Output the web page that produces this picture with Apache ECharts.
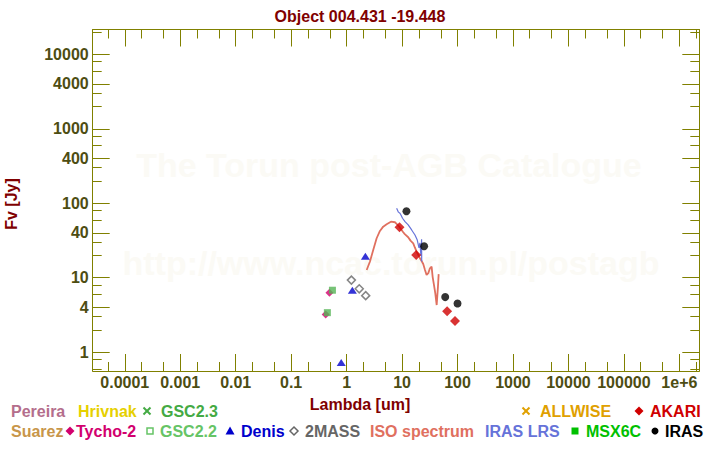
<!DOCTYPE html>
<html><head><meta charset="utf-8">
<script src="https://cdn.jsdelivr.net/npm/echarts@6/dist/echarts.min.js"></script>
<style>html,body{margin:0;padding:0;background:#fff}#c{width:720px;height:450px}</style>
</head><body><div id="c"></div>
<script>
// ---------- data ----------
const titleText = 'Object 004.431 -19.448';
const xTitle = 'Lambda [um]';
const yTitle = 'Fv [Jy]';
const xMin = 2.64e-5, xMax = 2.29e6;
const yMin = 0.56, yMax = 21500;
const xMajorTicks = [1e-4, 1e-3, 0.01, 0.1, 1, 10, 100, 1000, 1e4, 1e5, 1e6];
const xTickLabels = ['0.0001', '0.001', '0.01', '0.1', '1', '10', '100', '1000', '10000', '100000', '1e+6'];
const xMinorTicks = [5e-5, 2e-4, 5e-4, 2e-3, 5e-3, 0.02, 0.05, 0.2, 0.5, 2, 5, 20, 50, 200, 500, 2000, 5000, 2e4, 5e4, 2e5, 5e5, 2e6];
const yMajorTicks = [1, 4, 10, 40, 100, 400, 1000, 4000, 10000];
const yTickLabels = ['1', '4', '10', '40', '100', '400', '1000', '4000', '10000'];
const yMinorTicks = [0.6, 0.8, 2, 3, 6, 8, 20, 30, 60, 80, 200, 300, 600, 800, 2000, 3000, 6000, 8000, 20000];

const irasLam = [12, 25, 60, 100];
const irasFlux = [78, 26.5, 5.5, 4.5];
const akariLam = [9, 18, 65, 90];
const akariFlux = [47.6, 20.2, 3.55, 2.63];
const denisLam = [0.8, 1.27, 2.18];
const denisFlux = [0.73, 6.8, 19.5];
const tmassLam = [1.22, 1.69, 2.21];
const tmassFlux = [9.3, 7.1, 5.75];
const tychoLam = [0.42, 0.49];
const tychoFlux = [3.2, 6.3];
const gsc22Lam = [0.45, 0.555];
const gsc22Flux = [3.4, 6.8];
const isoLam = [2.30, 2.63, 3.02, 3.48, 3.99, 4.57, 5.27, 6.30, 7.43, 8.89, 10.5, 11.2, 12.9, 14.2, 15.9, 17.0, 18.3, 19.5, 21.0, 22.5, 24.1, 25.9, 27.7, 29.7, 31.8, 34.1, 35.6, 37.6, 39.7, 42.1, 44.4, 45.7];
const isoFlux = [12.7, 16.4, 23.6, 33.9, 42.5, 48.5, 52.3, 56.6, 55.6, 48.5, 40.8, 38.5, 35.0, 31.5, 29.0, 25.5, 22.4, 20.5, 18.3, 16.8, 15.3, 12.7, 10.9, 11.5, 13.4, 14.1, 10.3, 8.0, 6.2, 4.3, 7.6, 11.2];
const lrsLam = [7.98, 8.6, 9.16, 9.5, 10.2, 11.3, 12.9, 14.9, 17.1, 18.8, 20.2, 21.0, 21.9, 22.5, 22.6];
const lrsFlux = [85.7, 76, 73.4, 70, 62.9, 56.6, 51.2, 43.8, 37.5, 32.1, 25.1, 29.3, 19.6, 32.9, 16.5];

// legend entries (names, colours, icon kinds)
const legendNames = ['Pereira', 'Hrivnak', 'GSC2.3', 'ALLWISE', 'AKARI', 'Suarez', 'Tycho-2', 'GSC2.2', 'Denis', '2MASS', 'ISO spectrum', 'IRAS LRS', 'MSX6C', 'IRAS'];
const legendColors = ['#b46e8c', '#e6d000', '#44aa44', '#e0a000', '#d00000', '#c8964a', '#d2006e', '#66c466', '#0000cc', '#666666', '#e0705f', '#6673d9', '#00c000', '#000000'];
const legendIcons = [null, null, 'cross', 'cross', 'diamond', null, 'diamond', 'hsquare', 'triangle', 'hdiamond', null, null, 'square', 'circle'];

// ---------- layout ----------
const FONT = '"Liberation Sans", Arial, sans-serif';
const legendRow = [0, 0, 0, 0, 0, 1, 1, 1, 1, 1, 1, 1, 1, 1];
const legendTextX = [11, 78, 161, 540, 650, 11, 76, 160, 241, 305, 370, 485, 586, 665];
const legendIconX = [0, 0, 147, 526, 639, 0, 70, 150, 230, 294, 0, 0, 575, 655];
const rowY = [411, 431];

const zip = (a, b) => a.map((v, i) => [v, b[i]]);
const olive = '#808000';
const labelColor = '#4d4d12';

function fmtFrom(ticks, labels) {
  return function (v) {
    let best = 0, bd = Infinity;
    ticks.forEach((t, i) => { const d = Math.abs(Math.log10(v) - Math.log10(t)); if (d < bd) { bd = d; best = i; } });
    return labels[best];
  };
}

function mkAxis(isX, gridIndex, position, ticks, len, showLine, labels) {
  const ax = {
    type: 'log', logBase: 10, gridIndex, position,
    min: isX ? xMin : yMin, max: isX ? xMax : yMax,
    axisLine: { show: showLine, lineStyle: { color: olive, width: 1 } },
    axisTick: { show: true, inside: true, length: len, customValues: ticks, lineStyle: { color: olive, width: 1 } },
    splitLine: { show: false }, minorTick: { show: false }, minorSplitLine: { show: false },
    axisLabel: { show: false }
  };
  if (labels) {
    ax.axisLabel = {
      show: true, customValues: ticks, formatter: fmtFrom(ticks, labels),
      color: labelColor, fontSize: 16, fontWeight: 'bold', fontFamily: FONT,
      margin: isX ? 3 : 4, hideOverlap: false, showMinLabel: true, showMaxLabel: true
    };
  }
  return ax;
}

const gridRect = { left: 92.7, top: 29.5, width: 606.6, height: 341.5 };

// legend graphics
const legendGraphics = [];
legendNames.forEach((name, i) => {
  const y = rowY[legendRow[i]];
  const c = legendColors[i];
  legendGraphics.push({
    type: 'text', silent: true,
    style: { text: name, x: legendTextX[i], y: y, fill: c, font: 'bold 16px ' + FONT, textAlign: 'left', textVerticalAlign: 'middle', align: 'left', verticalAlign: 'middle' }
  });
  const ix = legendIconX[i];
  switch (legendIcons[i]) {
    case 'cross':
      legendGraphics.push({ type: 'line', shape: { x1: ix - 3.5, y1: y - 3.5, x2: ix + 3.5, y2: y + 3.5 }, style: { stroke: c, lineWidth: 2 } });
      legendGraphics.push({ type: 'line', shape: { x1: ix - 3.5, y1: y + 3.5, x2: ix + 3.5, y2: y - 3.5 }, style: { stroke: c, lineWidth: 2 } });
      break;
    case 'diamond':
      legendGraphics.push({ type: 'polygon', shape: { points: [[ix, y - 4.5], [ix + 4.5, y], [ix, y + 4.5], [ix - 4.5, y]] }, style: { fill: c } });
      break;
    case 'hdiamond':
      legendGraphics.push({ type: 'polygon', shape: { points: [[ix, y - 4], [ix + 4, y], [ix, y + 4], [ix - 4, y]] }, style: { fill: 'none', stroke: c, lineWidth: 1.5 } });
      break;
    case 'hsquare':
      legendGraphics.push({ type: 'rect', shape: { x: ix - 3, y: y - 3, width: 6, height: 6 }, style: { fill: 'none', stroke: c, lineWidth: 1.5 } });
      break;
    case 'square':
      legendGraphics.push({ type: 'rect', shape: { x: ix - 3.5, y: y - 3.5, width: 7, height: 7 }, style: { fill: c } });
      break;
    case 'triangle':
      legendGraphics.push({ type: 'polygon', shape: { points: [[ix, y - 4.5], [ix + 4.5, y + 3.5], [ix - 4.5, y + 3.5]] }, style: { fill: c } });
      break;
    case 'circle':
      legendGraphics.push({ type: 'circle', shape: { cx: ix, cy: y, r: 3.5 }, style: { fill: c } });
      break;
  }
});

const watermark = [
  { type: 'text', z: -10, silent: true, style: { text: 'The Torun post-AGB Catalogue', x: 389, y: 165, fill: '#fbfaf5', font: 'bold 34px ' + FONT, textAlign: 'center', textVerticalAlign: 'middle', align: 'center', verticalAlign: 'middle' } },
  { type: 'text', z: -10, silent: true, style: { text: 'http://www.ncac.torun.pl/postagb', x: 391, y: 263, fill: '#fbfaf5', font: 'bold 34px ' + FONT, textAlign: 'center', textVerticalAlign: 'middle', align: 'center', verticalAlign: 'middle' } }
];

const axisTitles = [
  { type: 'text', silent: true, style: { text: xTitle, x: 360, y: 404, fill: '#800000', font: 'bold 16px ' + FONT, textAlign: 'center', textVerticalAlign: 'middle', align: 'center', verticalAlign: 'middle' } },
  { type: 'text', silent: true, x: 11, y: 204, rotation: Math.PI / 2, style: { text: yTitle, x: 0, y: 0, fill: '#800000', font: 'bold 16px ' + FONT, textAlign: 'center', textVerticalAlign: 'middle', align: 'center', verticalAlign: 'middle' } }
];

const chart = echarts.init(document.getElementById('c'), null, { renderer: 'svg' });
chart.setOption({
  animation: false,
  backgroundColor: '#ffffff',
  title: { text: titleText, left: 'center', top: 3, textStyle: { color: '#800000', fontSize: 16, fontWeight: 'bold', fontFamily: FONT } },
  grid: [Object.assign({}, gridRect), Object.assign({}, gridRect)],
  xAxis: [
    mkAxis(true, 0, 'bottom', xMajorTicks, 17, true, xTickLabels),
    mkAxis(true, 0, 'top', xMajorTicks, 17, true, null),
    mkAxis(true, 1, 'bottom', xMinorTicks, 9, false, null),
    mkAxis(true, 1, 'top', xMinorTicks, 9, false, null)
  ],
  yAxis: [
    mkAxis(false, 0, 'left', yMajorTicks, 17, true, yTickLabels),
    mkAxis(false, 0, 'right', yMajorTicks, 17, true, null),
    mkAxis(false, 1, 'left', yMinorTicks, 9, false, null),
    mkAxis(false, 1, 'right', yMinorTicks, 9, false, null)
  ],
  graphic: { elements: watermark.concat(axisTitles, legendGraphics) },
  series: [
    { name: 'ISO spectrum', type: 'line', xAxisIndex: 0, yAxisIndex: 0, data: zip(isoLam, isoFlux), showSymbol: false, symbol: 'none', lineStyle: { color: '#e0705f', width: 1.8 }, z: 2 },
    { name: 'IRAS LRS', type: 'line', xAxisIndex: 0, yAxisIndex: 0, data: zip(lrsLam, lrsFlux), showSymbol: false, symbol: 'none', lineStyle: { color: '#6673d9', width: 1.2 }, z: 3 },
    { name: 'Tycho-2', type: 'scatter', data: zip(tychoLam, tychoFlux), symbol: 'diamond', symbolSize: 8, itemStyle: { color: '#d2006e' }, z: 4 },
    { name: 'GSC2.2', type: 'scatter', data: zip(gsc22Lam, gsc22Flux), symbol: 'rect', symbolSize: 7, itemStyle: { color: '#55b455' }, z: 5 },
    { name: 'Denis', type: 'scatter', data: zip(denisLam, denisFlux), symbol: 'triangle', symbolSize: [9, 7], itemStyle: { color: '#0000cc' }, z: 5 },
    { name: '2MASS', type: 'scatter', data: zip(tmassLam, tmassFlux), symbol: 'diamond', symbolSize: 8, itemStyle: { color: 'rgba(0,0,0,0)', borderColor: '#666666', borderWidth: 1.5 }, z: 5 },
    { name: 'AKARI', type: 'scatter', data: zip(akariLam, akariFlux), symbol: 'diamond', symbolSize: 10, itemStyle: { color: '#d00000' }, z: 6 },
    { name: 'IRAS', type: 'scatter', data: zip(irasLam, irasFlux), symbol: 'circle', symbolSize: 8, itemStyle: { color: '#000000' }, z: 7 }
  ]
});
</script>
</body></html>
